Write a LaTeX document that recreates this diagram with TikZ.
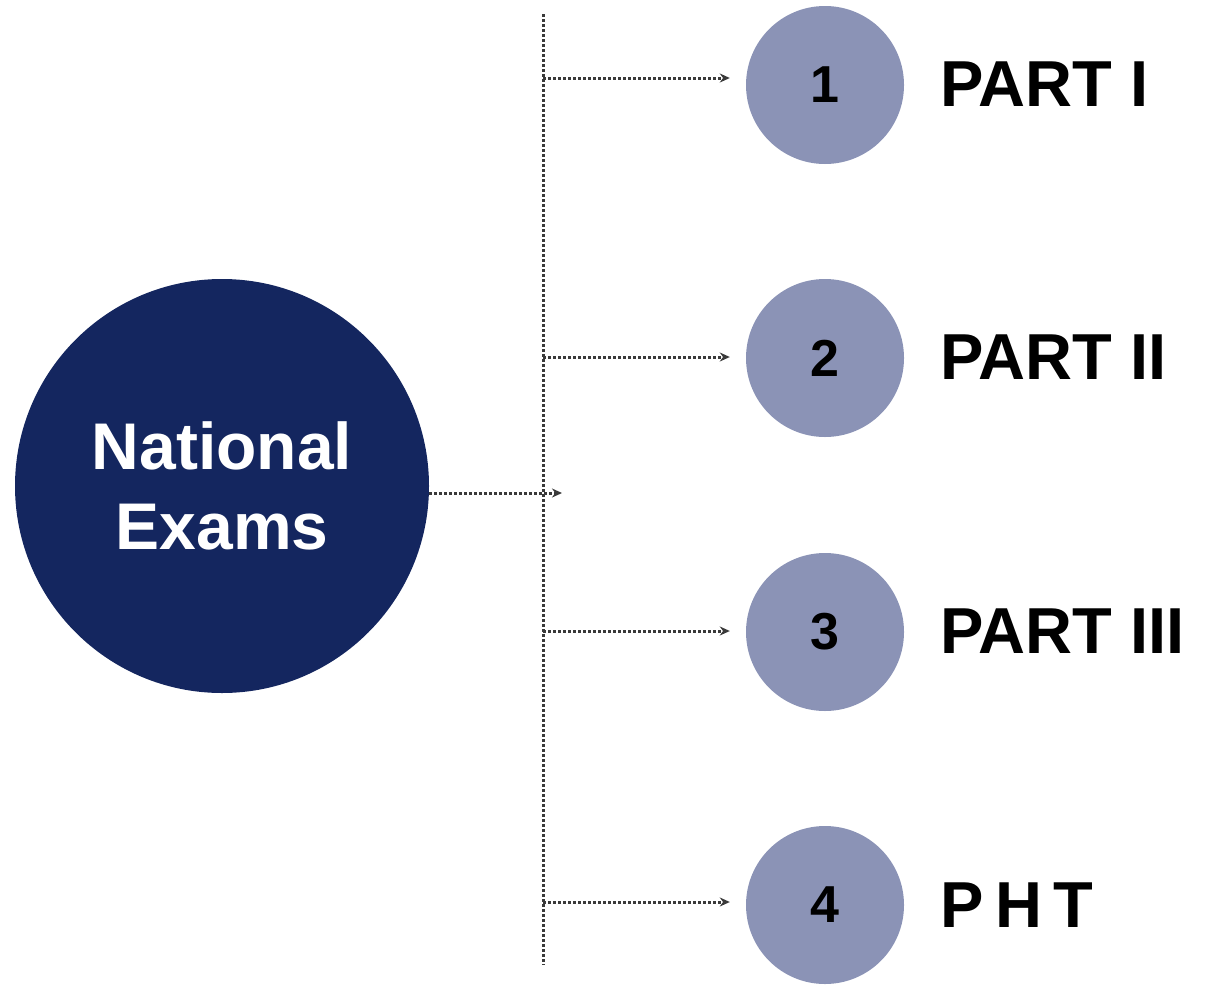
\documentclass[tikz,border=0pt]{standalone}
\usepackage{fontspec}
\setmainfont{Liberation Sans}
\usetikzlibrary{arrows.meta}
\definecolor{navy}{HTML}{14265F}
\definecolor{lav}{HTML}{8B93B6}
\definecolor{dotc}{HTML}{3A3A3A}
\begin{document}
\begin{tikzpicture}[x=1pt,y=-1pt,
  big/.style={circle,fill=navy,minimum size=414pt,inner sep=0pt,text=white,font=\bfseries\fontsize{66}{80}\selectfont,align=center},
  small/.style={circle,fill=lav,minimum size=158pt,inner sep=0pt,text=black,font=\bfseries\fontsize{52}{52}\selectfont},
  lbl/.style={anchor=west,font=\bfseries\fontsize{65}{65}\selectfont,text=black,inner sep=0pt},
  dotline/.style={draw=dotc,line width=3pt,dash pattern=on 3pt off 2pt},
  arr/.style={dotline,-{Stealth[length=10pt,width=9pt,fill=black]}}]
\useasboundingbox (0,0) rectangle (1209,985);
\node[big] (ne) at (222,486) {National\\Exams};
\coordinate (top) at (543,14);
\coordinate (bot) at (543,965);
\draw[dotline] (top) -- (bot);
\node[small] (c1) at (825,85) {1};
\node[small] (c2) at (825,358) {2};
\node[small] (c3) at (825,632) {3};
\node[small] (c4) at (825,905) {4};
\node[lbl] (l1) at (940,84) {PART I};
\node[lbl] (l2) at (940,357) {PART II};
\node[lbl] (l3) at (940,631) {PART III};
\node[lbl] (l4) at (940,905) {\addfontfeature{LetterSpace=18}PHT};
\coordinate (a1) at (543,78);
\coordinate (a2) at (543,357);
\coordinate (a3) at (543,631);
\coordinate (a4) at (543,902);
\coordinate (m) at (562,493);
\draw[arr] (a1) -- ([xshift=-16pt]a1 -| c1.west);
\draw[arr] (a2) -- ([xshift=-16pt]a2 -| c2.west);
\draw[arr] (a3) -- ([xshift=-16pt]a3 -| c3.west);
\draw[arr] (a4) -- ([xshift=-16pt]a4 -| c4.west);
\draw[arr] (ne.east |- m) -- (m);
\end{tikzpicture}
\end{document}
